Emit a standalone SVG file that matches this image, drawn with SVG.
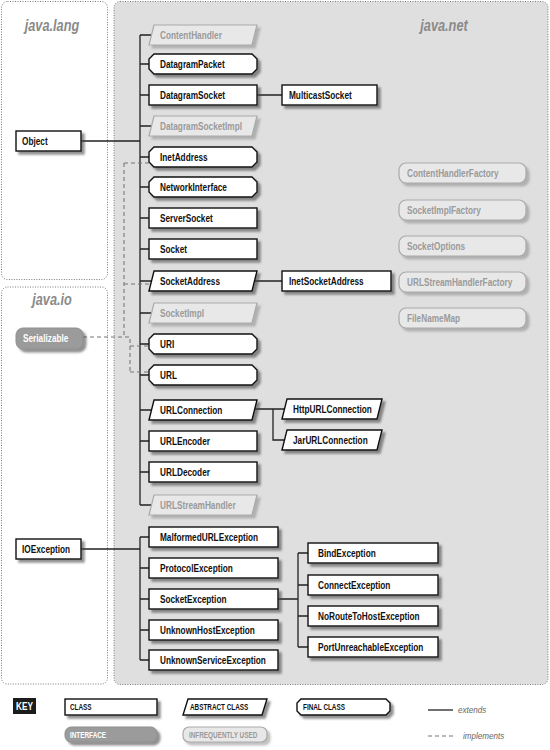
<svg xmlns="http://www.w3.org/2000/svg" width="550" height="750" viewBox="0 0 550 750">
<style>
.panel{stroke:#7a7a7a;stroke-width:1;stroke-dasharray:1,1.5}
.ttl{font-family:"Liberation Sans",sans-serif;font-weight:bold;font-style:italic;font-size:17px;fill:#8a8a8a;text-anchor:middle}
.cls{fill:#fff;stroke:#111;stroke-width:1.4}
.inf{fill:#e8e8e8;stroke:#a9a9a9;stroke-width:1.2}
.ser{fill:#9b9b9b;stroke:#8f8f8f;stroke-width:1}
.t{font-family:"Liberation Sans",sans-serif;font-weight:bold;font-size:11px;fill:#111}
.tg{fill:#9a9a9a}
.tw{fill:#fff}
.k{font-size:8.5px}
.ln{stroke:#222;stroke-width:1.3;fill:none}
.dl{stroke:#777;stroke-width:1.1;fill:none;stroke-dasharray:4,3}
.lg{font-family:"Liberation Sans",sans-serif;font-style:italic;font-size:9.5px;fill:#666}
</style>
<defs>
<filter id="sh" x="-10%" y="-30%" width="130%" height="190%"><feDropShadow dx="3" dy="3" stdDeviation="1.1" flood-color="#444" flood-opacity="0.6"/></filter>
<filter id="shl" x="-10%" y="-30%" width="130%" height="190%"><feDropShadow dx="3" dy="3" stdDeviation="1.1" flood-color="#777" flood-opacity="0.45"/></filter>
</defs>

<g id="panels">
<rect class="panel" x="1.5" y="1.5" width="106" height="278" rx="6" fill="#fff"/>
<rect class="panel" x="1.5" y="287" width="106" height="397" rx="6" fill="#fff"/>
<rect class="panel" x="114" y="1.5" width="434" height="683" rx="6" fill="#dfdfe0"/>
<text class="ttl" transform="translate(52 31) scale(.75 1)">java.lang</text>
<text class="ttl" transform="translate(52 305) scale(.75 1)">java.io</text>
<text class="ttl" transform="translate(444 31) scale(.75 1)">java.net</text>
</g>

<g id="connectors">
<path class="ln" d="M140 35V505M81 141H140M140 35H151M140 64H149M140 95H149M140 126H151M140 157H149M140 187H149M140 218H149M140 249H149M140 281H151M140 313H151M140 344H149M140 375H149M140 410H151M140 441H149M140 472H149M140 505H151"/>
<path class="ln" d="M257 95H282M255 281H282M255 409H284M273 409V440H284"/>
<path class="ln" d="M140 537V660M81 549H140M140 537H149M140 568H149M140 599H149M140 630H149M140 660H149"/>
<path class="ln" d="M278 599H298M298 553V647M298 553H308M298 585H308M298 616H308M298 647H308"/>
<path class="dl" d="M124 163V337M124 163H150M124 284H151M83 337H130V372M130 346H150M130 372H150"/>
</g>

<g id="Object"><rect class="cls" filter="url(#sh)" x="16" y="131" width="65" height="20"/><text class="t" transform="translate(22 145) scale(.75 1)">Object</text></g>
<g id="IOException"><rect class="cls" filter="url(#sh)" x="16" y="539" width="65" height="20"/><text class="t" transform="translate(22 553) scale(.75 1)">IOException</text></g>
<g id="Serializable"><rect class="ser" filter="url(#sh)" x="16" y="328" width="67" height="21" rx="7"/><text class="t tw" transform="translate(23 342) scale(.75 1)">Serializable</text></g>

<g id="ContentHandler"><polygon class="inf" filter="url(#shl)" points="154,25 257,25 252,45 149,45"/><text class="t tg" transform="translate(160 39) scale(.75 1)">ContentHandler</text></g>
<g id="DatagramPacket"><polygon class="cls" filter="url(#sh)" points="154,54 252,54 257,59 257,69 252,74 154,74 149,69 149,59"/><text class="t" transform="translate(160 68) scale(.75 1)">DatagramPacket</text></g>
<g id="DatagramSocket"><rect class="cls" filter="url(#sh)" x="149" y="85" width="108" height="20"/><text class="t" transform="translate(160 99) scale(.75 1)">DatagramSocket</text></g>
<g id="DatagramSocketImpl"><polygon class="inf" filter="url(#shl)" points="154,116 257,116 252,136 149,136"/><text class="t tg" transform="translate(160 130) scale(.75 1)">DatagramSocketImpl</text></g>
<g id="InetAddress"><polygon class="cls" filter="url(#sh)" points="154,147 252,147 257,152 257,162 252,167 154,167 149,162 149,152"/><text class="t" transform="translate(160 161) scale(.75 1)">InetAddress</text></g>
<g id="NetworkInterface"><polygon class="cls" filter="url(#sh)" points="154,177 252,177 257,182 257,192 252,197 154,197 149,192 149,182"/><text class="t" transform="translate(160 191) scale(.75 1)">NetworkInterface</text></g>
<g id="ServerSocket"><rect class="cls" filter="url(#sh)" x="149" y="208" width="108" height="20"/><text class="t" transform="translate(160 222) scale(.75 1)">ServerSocket</text></g>
<g id="Socket"><rect class="cls" filter="url(#sh)" x="149" y="239" width="108" height="20"/><text class="t" transform="translate(160 253) scale(.75 1)">Socket</text></g>
<g id="SocketAddress"><polygon class="cls" filter="url(#sh)" points="154,271 257,271 252,291 149,291"/><text class="t" transform="translate(160 285) scale(.75 1)">SocketAddress</text></g>
<g id="SocketImpl"><polygon class="inf" filter="url(#shl)" points="154,303 257,303 252,323 149,323"/><text class="t tg" transform="translate(160 317) scale(.75 1)">SocketImpl</text></g>
<g id="URI"><polygon class="cls" filter="url(#sh)" points="154,334 252,334 257,339 257,349 252,354 154,354 149,349 149,339"/><text class="t" transform="translate(160 348) scale(.75 1)">URI</text></g>
<g id="URL"><polygon class="cls" filter="url(#sh)" points="154,365 252,365 257,370 257,380 252,385 154,385 149,380 149,370"/><text class="t" transform="translate(160 379) scale(.75 1)">URL</text></g>
<g id="URLConnection"><polygon class="cls" filter="url(#sh)" points="154,400 257,400 252,420 149,420"/><text class="t" transform="translate(160 414) scale(.75 1)">URLConnection</text></g>
<g id="URLEncoder"><rect class="cls" filter="url(#sh)" x="149" y="431" width="108" height="20"/><text class="t" transform="translate(160 445) scale(.75 1)">URLEncoder</text></g>
<g id="URLDecoder"><rect class="cls" filter="url(#sh)" x="149" y="462" width="108" height="20"/><text class="t" transform="translate(160 476) scale(.75 1)">URLDecoder</text></g>
<g id="URLStreamHandler"><polygon class="inf" filter="url(#shl)" points="154,495 257,495 252,515 149,515"/><text class="t tg" transform="translate(160 509) scale(.75 1)">URLStreamHandler</text></g>

<g id="MulticastSocket"><rect class="cls" filter="url(#sh)" x="282" y="85" width="95" height="20"/><text class="t" transform="translate(289 99) scale(.75 1)">MulticastSocket</text></g>
<g id="InetSocketAddress"><rect class="cls" filter="url(#sh)" x="282" y="271" width="109" height="20"/><text class="t" transform="translate(289 285) scale(.75 1)">InetSocketAddress</text></g>
<g id="HttpURLConnection"><polygon class="cls" filter="url(#sh)" points="287,399 382,399 377,419 282,419"/><text class="t" transform="translate(293 413) scale(.75 1)">HttpURLConnection</text></g>
<g id="JarURLConnection"><polygon class="cls" filter="url(#sh)" points="287,430 382,430 377,450 282,450"/><text class="t" transform="translate(293 444) scale(.75 1)">JarURLConnection</text></g>

<g id="ContentHandlerFactory"><rect class="inf" filter="url(#shl)" x="399" y="163" width="127" height="20" rx="7"/><text class="t tg" transform="translate(407 177) scale(.75 1)">ContentHandlerFactory</text></g>
<g id="SocketImplFactory"><rect class="inf" filter="url(#shl)" x="399" y="200" width="127" height="20" rx="7"/><text class="t tg" transform="translate(407 214) scale(.75 1)">SocketImplFactory</text></g>
<g id="SocketOptions"><rect class="inf" filter="url(#shl)" x="399" y="236" width="127" height="20" rx="7"/><text class="t tg" transform="translate(407 250) scale(.75 1)">SocketOptions</text></g>
<g id="URLStreamHandlerFactory"><rect class="inf" filter="url(#shl)" x="399" y="272" width="127" height="20" rx="7"/><text class="t tg" transform="translate(407 286) scale(.75 1)">URLStreamHandlerFactory</text></g>
<g id="FileNameMap"><rect class="inf" filter="url(#shl)" x="399" y="308" width="127" height="20" rx="7"/><text class="t tg" transform="translate(407 322) scale(.75 1)">FileNameMap</text></g>

<g id="MalformedURLException"><rect class="cls" filter="url(#sh)" x="149" y="527" width="129" height="20"/><text class="t" transform="translate(160 541) scale(.75 1)">MalformedURLException</text></g>
<g id="ProtocolException"><rect class="cls" filter="url(#sh)" x="149" y="558" width="129" height="20"/><text class="t" transform="translate(160 572) scale(.75 1)">ProtocolException</text></g>
<g id="SocketException"><rect class="cls" filter="url(#sh)" x="149" y="589" width="129" height="20"/><text class="t" transform="translate(160 603) scale(.75 1)">SocketException</text></g>
<g id="UnknownHostException"><rect class="cls" filter="url(#sh)" x="149" y="620" width="129" height="20"/><text class="t" transform="translate(160 634) scale(.75 1)">UnknownHostException</text></g>
<g id="UnknownServiceException"><rect class="cls" filter="url(#sh)" x="149" y="650" width="129" height="20"/><text class="t" transform="translate(160 664) scale(.75 1)">UnknownServiceException</text></g>

<g id="BindException"><rect class="cls" filter="url(#sh)" x="308" y="543" width="130" height="20"/><text class="t" transform="translate(318 557) scale(.75 1)">BindException</text></g>
<g id="ConnectException"><rect class="cls" filter="url(#sh)" x="308" y="575" width="130" height="20"/><text class="t" transform="translate(318 589) scale(.75 1)">ConnectException</text></g>
<g id="NoRouteToHostException"><rect class="cls" filter="url(#sh)" x="308" y="606" width="130" height="20"/><text class="t" transform="translate(318 620) scale(.75 1)">NoRouteToHostException</text></g>
<g id="PortUnreachableException"><rect class="cls" filter="url(#sh)" x="308" y="637" width="130" height="20"/><text class="t" transform="translate(318 651) scale(.75 1)">PortUnreachableException</text></g>

<g id="key">
<rect x="13" y="698" width="23" height="16" fill="#1c1c1c"/><text class="t tw" font-size="9.5" text-anchor="middle" transform="translate(24.5 709.5) scale(.75 1)">KEY</text>
<rect class="cls" filter="url(#sh)" x="65" y="699" width="92" height="16"/><text class="t k" transform="translate(70 710) scale(.75 1)">CLASS</text>
<polygon class="cls" filter="url(#sh)" points="188,699 267,699 262,715 183,715"/><text class="t k" transform="translate(190 710) scale(.75 1)">ABSTRACT CLASS</text>
<polygon class="cls" filter="url(#sh)" points="301,699 386,699 390,703 390,711 386,715 301,715 297,711 297,703"/><text class="t k" transform="translate(303 710) scale(.75 1)">FINAL CLASS</text>
<rect class="ser" filter="url(#sh)" x="65" y="727" width="92" height="15" rx="6"/><text class="t tw k" transform="translate(70 738) scale(.75 1)">INTERFACE</text>
<rect class="inf" filter="url(#shl)" x="183" y="727" width="84" height="15" rx="6"/><text class="t tg k" transform="translate(189 738) scale(.75 1)">INFREQUENTLY USED</text>
<path class="ln" d="M428 710H453"/><text class="lg" transform="translate(458 713) scale(.85 1)">extends</text>
<path class="dl" d="M428 736H453" stroke-dasharray="3,2.5"/><text class="lg" transform="translate(463 739) scale(.85 1)">implements</text>
</g>
</svg>
